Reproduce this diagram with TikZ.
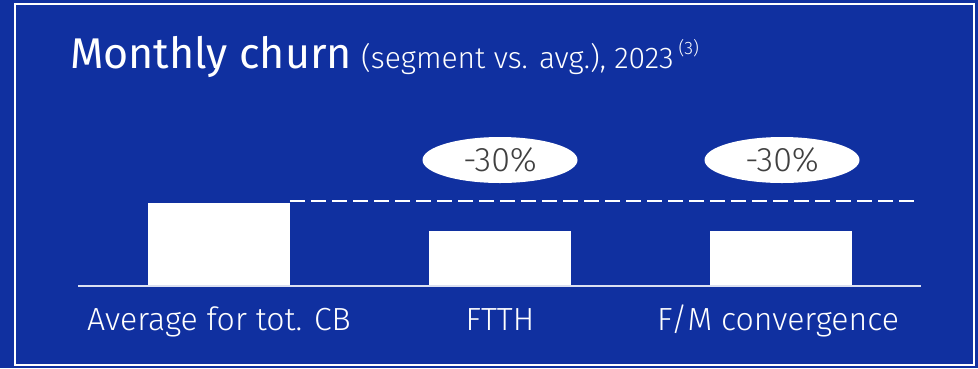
\documentclass[tikz,border=0pt]{standalone}
\usepackage{fontspec}
\setmainfont{Fira Sans}
\newfontfamily\lightfont{Fira Sans Light}
\definecolor{bg}{RGB}{16,48,160}
\definecolor{pctgray}{RGB}{64,64,64}
\tikzset{
  bar/.style={fill=white, draw=none},
  pct/.style={ellipse, fill=white, draw=none, minimum width=155pt, minimum height=46pt, inner sep=0pt, text=pctgray, font=\lightfont\fontsize{34}{34}\selectfont},
  lbl/.style={text=white, anchor=base, inner sep=0pt, font=\lightfont\fontsize{32}{32}\selectfont},
}
\usetikzlibrary{shapes.geometric}
\begin{document}
\begin{tikzpicture}[x=1pt,y=-1pt]
\fill[bg] (0,0) rectangle (978,368);
\useasboundingbox (0,0) rectangle (978,368);
\draw[white, line width=2pt] (14.5,4) rectangle (973.5,365);
\node[anchor=base west, inner sep=0pt, text=white, font=\fontsize{43}{43}\selectfont] (title) at (70,68) {Monthly churn};
\node[anchor=base west, inner sep=0pt, text=white, font=\lightfont\fontsize{30}{30}\selectfont] (sub) at (361,68) {(segment vs. avg.), 2023\,\raisebox{0.45em}{\fontsize{18}{18}\selectfont(3)}};
% bars
\path[bar] (148,203) rectangle (290,285.5);
\path[bar] (429,231) rectangle (571,285.5);
\path[bar] (710,231) rectangle (852,285.5);
\coordinate (b1r) at (290,201);
\coordinate (dend) at (919,201);
\draw[white, line width=2pt, dash pattern=on 15pt off 6pt] (b1r) -- (dend);
\coordinate (axl) at (78,285.5);
\coordinate (axr) at (921,285.5);
\draw[white!85!bg, line width=2pt] (axl) -- (axr);
\node[pct] (p1) at (500,160) {-30\%};
\node[pct] (p2) at (782,160) {-30\%};
\node[lbl] (l1) at (219,330) {Average for tot. CB};
\node[lbl] (l2) at (500,330) {FTTH};
\node[lbl] (l3) at (778,330) {F/M convergence};
\end{tikzpicture}
\end{document}
